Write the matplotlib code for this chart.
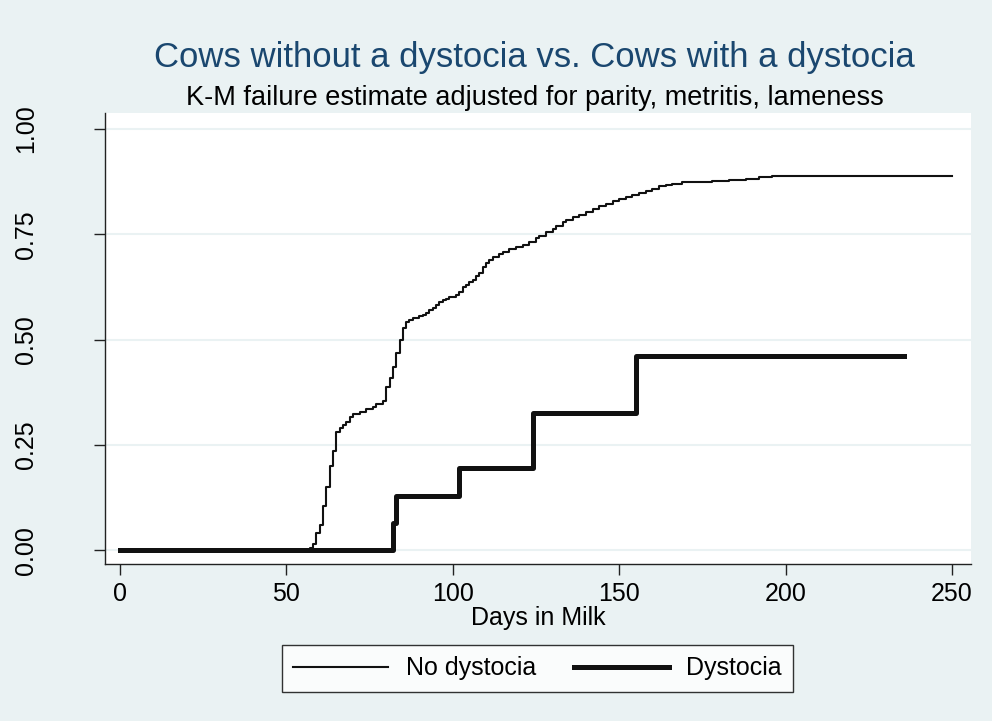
import matplotlib.pyplot as plt

plt.rcParams["font.family"] = ["Liberation Sans", "DejaVu Sans"]

# K-M failure estimate, no dystocia (step points)
days_no = [0, 57, 58, 59, 60, 61, 62, 63, 64, 65, 66, 67, 68, 69, 70, 72,
           74, 76, 77, 79, 80, 81, 82, 83, 84, 85, 86, 87, 88, 90, 91, 92,
           93, 94, 95, 96, 97, 98, 99, 101, 102, 103, 104, 105, 106, 107,
           108, 109, 110, 111, 112, 114, 115, 117, 119, 121, 123, 125, 126,
           128, 130, 131, 133, 134, 136, 138, 140, 142, 144, 146, 148, 150,
           152, 154, 156, 158, 160, 162, 164, 166, 169, 173, 178, 183, 188,
           192, 196, 250]
fail_no = [0.0, 0.005, 0.014, 0.04, 0.06, 0.105, 0.15, 0.20, 0.236, 0.28,
           0.29, 0.298, 0.305, 0.315, 0.322, 0.328, 0.335, 0.340, 0.346,
           0.355, 0.387, 0.408, 0.434, 0.468, 0.50, 0.527, 0.542, 0.547,
           0.551, 0.555, 0.558, 0.564, 0.570, 0.575, 0.582, 0.589, 0.593,
           0.597, 0.601, 0.606, 0.612, 0.625, 0.630, 0.636, 0.642, 0.650,
           0.658, 0.672, 0.682, 0.690, 0.697, 0.703, 0.708, 0.715, 0.720,
           0.725, 0.732, 0.740, 0.747, 0.755, 0.763, 0.770, 0.778, 0.785,
           0.790, 0.796, 0.802, 0.810, 0.817, 0.822, 0.828, 0.833, 0.838,
           0.843, 0.848, 0.853, 0.858, 0.864, 0.868, 0.870, 0.873, 0.875,
           0.877, 0.879, 0.882, 0.885, 0.888, 0.888]

# K-M failure estimate, dystocia
days_dys = [0, 82, 83, 102, 124, 155, 235.5]
fail_dys = [0.0, 0.065, 0.128, 0.195, 0.325, 0.461, 0.461]

xticks = [0, 50, 100, 150, 200, 250]
yticks = [0.0, 0.25, 0.50, 0.75, 1.0]
ytick_labels = ["0.00", "0.25", "0.50", "0.75", "1.00"]

bg = "#EAF2F3"

fig = plt.figure(figsize=(9.92, 7.21), dpi=100, facecolor=bg)
ax = fig.add_axes([0.1058, 0.2178, 0.873, 0.6255])
ax.set_facecolor("white")

ax.step(days_no, fail_no, where="post", color="#111111", lw=1.5,
        label="No dystocia", zorder=3)
ax.step(days_dys, fail_dys, where="post", color="#111111", lw=3.6,
        label="Dystocia", zorder=3)

ax.set_xlim(-4.5, 255.7)
ax.set_ylim(-0.033, 1.038)
ax.set_xticks(xticks)
ax.set_yticks(yticks)
ax.set_yticklabels(ytick_labels, rotation=90, va="center")

for side in ["top", "right"]:
    ax.spines[side].set_visible(False)
for side in ["left", "bottom"]:
    ax.spines[side].set_color("#222222")
    ax.spines[side].set_linewidth(1.0)

ax.grid(axis="y", color=bg, lw=1.5, zorder=0)
ax.tick_params(axis="x", length=8, width=1, color="#222222",
               labelsize=18, pad=5)
ax.tick_params(axis="y", length=8, width=1, color="#222222",
               labelsize=18, pad=40)

ax.set_xlabel("Days in Milk", fontsize=18, labelpad=0)

fig.text(0.539, 0.920, "Cows without a dystocia vs. Cows with a dystocia",
         ha="center", va="center", fontsize=25, color="#1A476F")
fig.text(0.539, 0.864, "K-M failure estimate adjusted for parity, metritis, lameness",
         ha="center", va="center", fontsize=19.5, color="black")

leg = fig.legend(loc="center", bbox_to_anchor=(0.542, 0.073), ncol=2,
                 fontsize=18, handlelength=3.8, handletextpad=0.7,
                 columnspacing=1.5, borderpad=0.45, fancybox=False,
                 frameon=True)
leg.get_frame().set_edgecolor("black")
leg.get_frame().set_linewidth(1.0)
leg.get_frame().set_facecolor("white")

fig.savefig("out.png", dpi=100, facecolor=bg)
